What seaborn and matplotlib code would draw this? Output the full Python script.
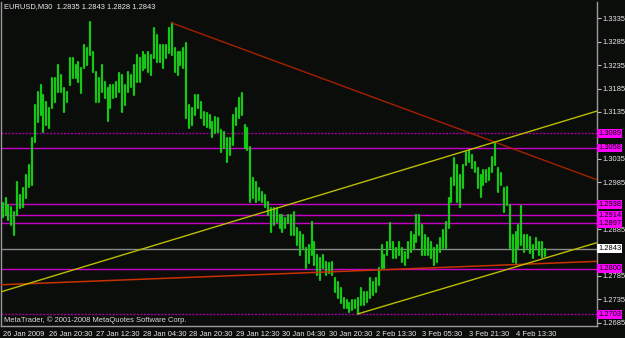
import matplotlib
matplotlib.use("Agg")
import matplotlib.pyplot as plt
import seaborn as sns
import pandas as pd

# ---------------- data (EURUSD M30, two half-hour bars per entry) ----------------
highs = [
    1.2941, 1.2951, 1.2936, 1.2932, 1.2921, 1.2985, 1.2958, 1.2973, 1.3000, 1.3022,
    1.3079, 1.3150, 1.3178, 1.3193, 1.3171, 1.3156, 1.3143, 1.3207, 1.3207, 1.3235,
    1.3214, 1.3186, 1.3178, 1.3250, 1.3250, 1.3235, 1.3242, 1.3229, 1.3278, 1.3272,
    1.3327, 1.3263, 1.3220, 1.3207, 1.3235, 1.3199, 1.3186, 1.3193, 1.3193, 1.3199,
    1.3218, 1.3214, 1.3193, 1.3220, 1.3214, 1.3235, 1.3257, 1.3250, 1.3263, 1.3257,
    1.3263, 1.3257, 1.3314, 1.3299, 1.3278, 1.3278, 1.3278, 1.3314, 1.3325, 1.3272,
    1.3263, 1.3263, 1.3272, 1.3282, 1.3150, 1.3143, 1.3171, 1.3171, 1.3156, 1.3135,
    1.3133, 1.3128, 1.3114, 1.3124, 1.3122, 1.3096, 1.3092, 1.3079, 1.3079, 1.3128,
    1.3143, 1.3165, 1.3175, 1.3107, 1.3101, 1.3060, 1.2994, 1.2985, 1.2973, 1.2964,
    1.2958, 1.2943, 1.2930, 1.2930, 1.2930, 1.2915, 1.2915, 1.2909, 1.2915, 1.2915,
    1.2921, 1.2887, 1.2879, 1.2872, 1.2845, 1.2851, 1.2900, 1.2857, 1.2830, 1.2823,
    1.2830, 1.2815, 1.2812, 1.2815, 1.2781, 1.2772, 1.2759, 1.2738, 1.2734, 1.2727,
    1.2734, 1.2734, 1.2738, 1.2759, 1.2751, 1.2751, 1.2781, 1.2772, 1.2781, 1.2802,
    1.2851, 1.2830, 1.2857, 1.2898, 1.2857, 1.2845, 1.2857, 1.2845, 1.2836, 1.2857,
    1.2879, 1.2872, 1.2915, 1.2915, 1.2894, 1.2872, 1.2866, 1.2857, 1.2845, 1.2851,
    1.2866, 1.2883, 1.2900, 1.2951, 1.2994, 1.3037, 1.3022, 1.3000, 1.3022, 1.3049,
    1.3054, 1.3043, 1.3028, 1.3015, 1.3000, 1.3011, 1.3011, 1.3015, 1.3039, 1.3071,
    1.3015, 1.3005, 1.2973, 1.2975, 1.2936, 1.2872, 1.2879, 1.2894, 1.2934, 1.2872,
    1.2872, 1.2868, 1.2851, 1.2866, 1.2857, 1.2857, 1.2843,
]
lows = [
    1.2911, 1.2915, 1.2904, 1.2894, 1.2872, 1.2915, 1.2930, 1.2932, 1.2951, 1.2975,
    1.2979, 1.3071, 1.3114, 1.3128, 1.3092, 1.3107, 1.3101, 1.3143, 1.3156, 1.3178,
    1.3178, 1.3135, 1.3156, 1.3193, 1.3207, 1.3207, 1.3199, 1.3175, 1.3229, 1.3235,
    1.3257, 1.3220, 1.3156, 1.3156, 1.3178, 1.3165, 1.3116, 1.3143, 1.3165, 1.3167,
    1.3178, 1.3135, 1.3150, 1.3178, 1.3188, 1.3171, 1.3199, 1.3199, 1.3225, 1.3229,
    1.3220, 1.3214, 1.3250, 1.3242, 1.3242, 1.3229, 1.3250, 1.3261, 1.3257, 1.3220,
    1.3214, 1.3235, 1.3229, 1.3122, 1.3101, 1.3107, 1.3128, 1.3143, 1.3122, 1.3107,
    1.3103, 1.3101, 1.3081, 1.3090, 1.3092, 1.3049, 1.3058, 1.3028, 1.3043, 1.3064,
    1.3107, 1.3122, 1.3128, 1.3058, 1.3054, 1.2943, 1.2951, 1.2943, 1.2947, 1.2943,
    1.2932, 1.2915, 1.2879, 1.2894, 1.2900, 1.2887, 1.2879, 1.2887, 1.2898, 1.2872,
    1.2872, 1.2851, 1.2830, 1.2845, 1.2802, 1.2812, 1.2830, 1.2808, 1.2787, 1.2776,
    1.2802, 1.2787, 1.2791, 1.2787, 1.2751, 1.2738, 1.2727, 1.2716, 1.2716, 1.2708,
    1.2712, 1.2716, 1.2704, 1.2723, 1.2723, 1.2729, 1.2738, 1.2744, 1.2751, 1.2766,
    1.2802, 1.2802, 1.2830, 1.2845, 1.2823, 1.2823, 1.2830, 1.2815, 1.2808, 1.2823,
    1.2836, 1.2845, 1.2857, 1.2872, 1.2830, 1.2830, 1.2830, 1.2823, 1.2808, 1.2815,
    1.2836, 1.2845, 1.2845, 1.2887, 1.2943, 1.2979, 1.2943, 1.2932, 1.2973, 1.3022,
    1.3028, 1.3015, 1.3007, 1.2973, 1.2953, 1.2979, 1.2985, 1.2990, 1.3007, 1.3022,
    1.2964, 1.2979, 1.2921, 1.2936, 1.2845, 1.2815, 1.2812, 1.2845, 1.2851, 1.2836,
    1.2845, 1.2834, 1.2823, 1.2845, 1.2830, 1.2825, 1.2828,
]
bar_no = list(range(0, 2 * len(highs), 2))   # half-hour bar number of each entry

time_ticks = [0, 32, 64, 96, 128, 160, 192, 224, 256, 288, 320, 352]
time_labels = ["26 Jan 2009", "26 Jan 20:30", "27 Jan 12:30", "28 Jan 04:30",
               "28 Jan 20:30", "29 Jan 12:30", "30 Jan 04:30", "30 Jan 20:30",
               "2 Feb 13:30", "3 Feb 05:30", "3 Feb 21:30", "4 Feb 13:30"]
# price scale labels that stay visible (the others are hidden under the level tags)
price_ticks = [1.2685, 1.2735, 1.2785, 1.2885, 1.2985,
               1.3035, 1.3135, 1.3185, 1.3235, 1.3285, 1.3335]

levels = [1.3089, 1.3058, 1.2938, 1.2914, 1.2897, 1.2800, 1.2703]
level_dotted = [True, False, False, False, False, False, True]
bid = 1.2843

red_hi_bar, red_hi_price = [116, 408], [1.3325, 1.2990]
yel_hi_bar, yel_hi_price = [-1, 408], [1.2751, 1.3137]
yel_lo_bar, yel_lo_price = [244, 408], [1.2704, 1.2856]
red_lo_bar, red_lo_price = [-1, 408], [1.2766, 1.2816]

header = "EURUSD,M30  1.2835 1.2843 1.2828 1.2843"
copyright_txt = "MetaTrader, \u00a9 2001-2008 MetaQuotes Software Corp."

# ---------------- drawing ----------------
BG = "#0b0d0b"
sns.set_theme(style="dark", rc={"axes.facecolor": BG, "figure.facecolor": BG})
plt.rcParams["font.family"] = ["Liberation Sans", "DejaVu Sans"]
FS = 5.4

fig = plt.figure(figsize=(6.25, 3.38), dpi=100, facecolor=BG)
ax = fig.add_axes([1.5 / 625, 12.3 / 338, 595.5 / 625, 323.7 / 338])
ax.set_facecolor(BG)

df = pd.DataFrame({"bar": bar_no + bar_no, "price": highs + lows})
sns.lineplot(data=df, x="bar", y="price", units="bar", estimator=None,
             color="#14c814", lw=1.6, ax=ax, legend=False, zorder=3)

for lv, dotted in zip(levels, level_dotted):
    if dotted:
        ax.axhline(lv, color="#a000a0", lw=1.0, ls=(0, (1.5, 1)), zorder=2)
    else:
        ax.axhline(lv, color="#c800c8", lw=1.0, zorder=2)
ax.axhline(bid, color="#8a8a8a", lw=1.0, zorder=2)

ax.plot(red_hi_bar, red_hi_price, color="#a62000", lw=1.0, zorder=4)
ax.plot(red_lo_bar, red_lo_price, color="#c83200", lw=1.1, zorder=4)
ax.plot(yel_hi_bar, yel_hi_price, color="#bcbc00", lw=1.0, zorder=4)
ax.plot(yel_lo_bar, yel_lo_price, color="#bcbc00", lw=1.0, zorder=4)

ax.set_xlim(-0.8, 407.9)
ax.set_ylim(1.26786, 1.33697)
ax.set_xlabel("")
ax.set_ylabel("")
ax.grid(False)

ax.yaxis.tick_right()
ax.set_yticks(price_ticks)
ax.set_yticklabels([f"{p:.4f}" for p in price_ticks])
ax.set_xticks(time_ticks)
ax.set_xticklabels(time_labels)
ax.tick_params(axis="both", colors="#bdbdbd", labelcolor="#e6e6e6", labelsize=FS,
               length=3, width=0.8, direction="out", pad=1)
for lbl in ax.get_xticklabels():
    lbl.set_horizontalalignment("left")

for side in ["left", "right", "bottom"]:
    ax.spines[side].set_visible(True)
    ax.spines[side].set_color("#9a9a9a")
    ax.spines[side].set_linewidth(1.0)
ax.spines["top"].set_visible(False)

ytr = ax.get_yaxis_transform()
for lv in levels:
    ax.text(1.002, lv, f"{lv:.4f}", transform=ytr, ha="left", va="center",
            fontsize=FS, color="black", clip_on=False, zorder=6,
            bbox=dict(boxstyle="square,pad=0.12", fc="#ff00ff", ec="none"))
ax.text(1.002, bid, f"{bid:.4f}", transform=ytr, ha="left", va="center",
        fontsize=FS, color="black", clip_on=False, zorder=6,
        bbox=dict(boxstyle="square,pad=0.12", fc="#ffffff", ec="none"))

fig.text(4 / 625, 1 - 7 / 338, header, ha="left", va="center",
         fontsize=FS, color="#ececec")
fig.text(4 / 625, 1 - 320 / 338, copyright_txt, ha="left", va="center",
         fontsize=FS, color="#dcdcdc")

fig.savefig("out.png", dpi=100, facecolor=BG)
